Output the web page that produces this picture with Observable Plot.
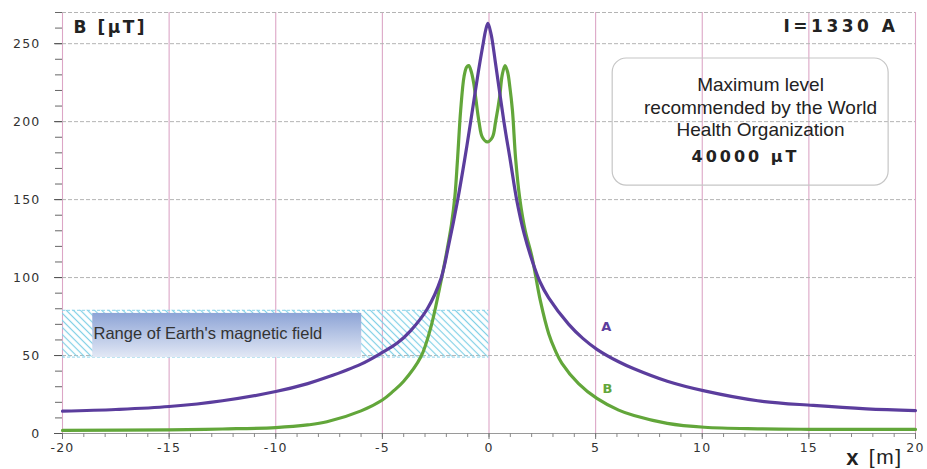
<!DOCTYPE html>
<html><head><meta charset="utf-8">
<script src="https://cdn.jsdelivr.net/npm/d3@7"></script>
<script src="https://cdn.jsdelivr.net/npm/@observablehq/plot@0.6"></script>
<style>body{margin:0;background:#fff;} svg{display:block}</style>
</head><body><div id="chart"></div>
<script>
// Curve A (purple)
const xA = [-20, -17.5, -15, -12.5, -10, -8.5, -7.6, -6, -5, -4.3, -3.67, -2.89, -2.26, -1.88, -1.48, -1.15, -0.86, -0.5, -0.3, -0.15, -0.05, 0.1, 0.3, 0.7, 1.0, 1.31, 1.65, 2.02, 2.4, 2.8, 3.74, 4.4, 5.06, 6.08, 6.8, 8.36, 10.1, 12.6, 15.2, 17.7, 20];
const yA = [14.3, 15.4, 17.3, 21, 26.9, 32, 36, 44.5, 52, 58, 66, 80, 99, 121.6, 149, 175, 200, 232, 248, 259, 263, 256, 238, 200, 175, 149, 128, 111, 97, 87, 70, 61, 54, 46, 41.5, 33.5, 27.3, 21, 18, 15.8, 14.7];
// Curve B (green)
const xB = [-20, -15, -12.5, -10, -8.5, -7.6, -6, -5, -4.5, -4, -3.2, -2.73, -2.34, -2.03, -1.76, -1.6, -1.48, -1.33, -1.17, -1.05, -0.95, -0.83, -0.72, -0.62, -0.47, -0.31, -0.08, 0.16, 0.31, 0.5, 0.62, 0.75, 0.87, 0.98, 1.1, 1.25, 1.45, 1.7, 2.02, 2.41, 2.8, 3.1, 3.42, 4.2, 5.06, 6.08, 6.8, 8.36, 10.1, 12.6, 15, 20];
const yB = [2, 2.3, 2.9, 3.8, 5.5, 7.5, 14.5, 21.5, 27, 33.5, 49, 68, 91.7, 113, 134, 152, 175, 207, 229, 235, 236, 232, 225, 215, 200, 190, 187, 190, 200, 216, 230, 236, 232, 222, 207, 176, 150, 130, 113, 85, 64, 53.5, 45, 32, 22.5, 15, 11.5, 6.5, 4, 3, 2.7, 2.6];

const xTicks = [-20, -15, -10, -5, 0, 5, 10, 15, 20];
const yTicks = [0, 50, 100, 150, 200, 250];
const yMax = 270;
const earthRange = [49, 79];
const seriesNames = ["A", "B"];

// annotations (data coordinates)
const earthBand = {x1: -20, x2: 0};
const earthBox = {x1: -18.58, x2: -5.97, y1: 48.7, y2: 77};
const whoBox = {x1: 5.8, x2: 18.74, y1: 159, y2: 240.5};
const labelPos = [{x: 5.5, y: 68.6}, {x: 5.55, y: 28.9}];

const purple = "#5b3d9d";
const green = "#62a63a";

const dataA = xA.map((x, i) => ({x, y: yA[i]}));
const dataB = xB.map((x, i) => ({x, y: yB[i]}));
const minorX = d3.range(-20, 21, 1);
const minorY = d3.range(0, yMax + 1, 10);

const svg = Plot.plot({
  width: 927, height: 469,
  marginTop: 12, marginRight: 12, marginBottom: 36, marginLeft: 62,
  style: {fontFamily: "DejaVu Sans, sans-serif", fontSize: "12.5px", background: "#fff", color: "#333"},
  x: {domain: [-20, 20], label: null, axis: null},
  y: {domain: [0, yMax], label: null, axis: null},
  marks: [
    Plot.ruleX(xTicks, {stroke: "#dca6c6", strokeWidth: 1.1}),
    Plot.ruleY(yTicks.filter(d => d > 0), {stroke: "#b4b4b4", strokeDasharray: "4,2"}),
    Plot.ruleY([yMax], {stroke: "#b4b4b4", strokeDasharray: "4,2"}),
    Plot.rect([earthRange], {x1: earthBand.x1, x2: earthBand.x2, y1: d => d[0], y2: d => d[1], fill: "url(#hatch)"}),
    Plot.ruleY(earthRange, {x1: earthBand.x1, x2: earthBand.x2, stroke: "#8fd3ea", strokeDasharray: "3,2"}),
    Plot.rect([earthBox], {x1: "x1", x2: "x2", y1: "y1", y2: "y2", fill: "url(#earthGrad)"}),
    Plot.text(["Range of Earth's magnetic field"], {frameAnchor: "bottom-left", dx: 31, dy: -106, lineAnchor: "top", textAnchor: "start", fontSize: 16.5, fontFamily: "Liberation Sans, Arial, sans-serif", fill: "#333"}),
    Plot.rect([whoBox], {x1: "x1", x2: "x2", y1: "y1", y2: "y2", fill: "none", stroke: "#c6c6c6", strokeWidth: 1.2, rx: 14}),
    Plot.text(["Maximum level\nrecommended by the World\nHealth Organization"], {frameAnchor: "top-right", dx: -155, dy: 63, lineAnchor: "top", textAnchor: "middle", fontSize: 19, lineHeight: 1.17, fontFamily: "Liberation Sans, Arial, sans-serif", fill: "#222"}),
    Plot.text(["40000 μT"], {frameAnchor: "top-right", dx: -170, dy: 138.5, lineAnchor: "top", textAnchor: "middle", fontSize: 16, fontWeight: "bold", fontFamily: "DejaVu Sans, sans-serif", fill: "#222"}),
    Plot.text(["B [μT]"], {frameAnchor: "top-left", dx: 11, dy: 8.5, lineAnchor: "top", textAnchor: "start", fontSize: 17, fontWeight: "bold", fontFamily: "DejaVu Sans, sans-serif", fill: "#222"}),
    Plot.text(["I=1330 A"], {frameAnchor: "top-right", dx: -17, dy: 7.5, lineAnchor: "top", textAnchor: "end", fontSize: 17, fontWeight: "bold", fontFamily: "DejaVu Sans, sans-serif", fill: "#222"}),
    Plot.text(["[m]"], {frameAnchor: "bottom-right", dx: -13, dy: 15.7, lineAnchor: "top", textAnchor: "end", fontSize: 21, fontFamily: "Liberation Sans, Arial, sans-serif", fill: "#222"}),
    Plot.text(["x"], {frameAnchor: "bottom-right", dx: -57, dy: 15.7, lineAnchor: "top", textAnchor: "end", fontSize: 22, fontWeight: "bold", fontFamily: "Liberation Sans, Arial, sans-serif", fill: "#222"}),
    Plot.ruleY([0], {stroke: "#9a9a9a", strokeWidth: 1.2}),
    Plot.axisY(minorY, {tickSize: 7, tickFormat: () => "", stroke: "#666", label: null}),
    Plot.axisY(yTicks, {tickSize: 8, tickPadding: 14, tickFormat: d => String(d), stroke: "#555", fill: "#333", label: null}),
    Plot.axisX(minorX, {tickSize: 4, tickFormat: () => "", stroke: "#888", label: null}),
    Plot.axisX(xTicks, {tickSize: 6, tickPadding: 4, tickFormat: d => String(d), stroke: "#777", fill: "#333", label: null}),
    Plot.line(dataB, {x: "x", y: "y", stroke: green, strokeWidth: 3.2, curve: "catmull-rom"}),
    Plot.line(dataA, {x: "x", y: "y", stroke: purple, strokeWidth: 3.2, curve: "catmull-rom"}),
    Plot.text([seriesNames[0]], {x: labelPos[0].x, y: labelPos[0].y, fill: purple, fontWeight: "bold", fontSize: 13}),
    Plot.text([seriesNames[1]], {x: labelPos[1].x, y: labelPos[1].y, fill: green, fontWeight: "bold", fontSize: 13})
  ]
});

const defs = d3.select(svg).insert("defs", ":first-child");
const pat = defs.append("pattern").attr("id", "hatch").attr("patternUnits", "userSpaceOnUse")
  .attr("width", 5).attr("height", 5).attr("patternTransform", "rotate(-45)");
pat.append("line").attr("x1", 2.5).attr("y1", 0).attr("x2", 2.5).attr("y2", 5)
  .attr("stroke", "#82d0e6").attr("stroke-width", 1.2);
const grad = defs.append("linearGradient").attr("id", "earthGrad").attr("x1", 0).attr("y1", 0).attr("x2", 0).attr("y2", 1);
grad.append("stop").attr("offset", "0%").attr("stop-color", "#8da4d6");
grad.append("stop").attr("offset", "100%").attr("stop-color", "#e2e8f5");
d3.select(svg).selectAll("g[aria-label='y-axis tick label'] text, g[aria-label='x-axis tick label'] text").attr("letter-spacing", "1.2px");
d3.select(svg).selectAll("text").filter(function(){ return this.textContent === "I=1330 A"; }).attr("letter-spacing", "3.5px");
d3.select(svg).selectAll("text").filter(function(){ return this.textContent === "40000 μT"; }).attr("letter-spacing", "3px");
d3.select(svg).selectAll("text").filter(function(){ return this.textContent === "B [μT]"; }).attr("letter-spacing", "2.5px");
d3.select(svg).selectAll("text").filter(function(){ return this.textContent === "[m]"; }).attr("letter-spacing", "1.5px");
document.getElementById("chart").append(svg);
</script>
</body></html>
